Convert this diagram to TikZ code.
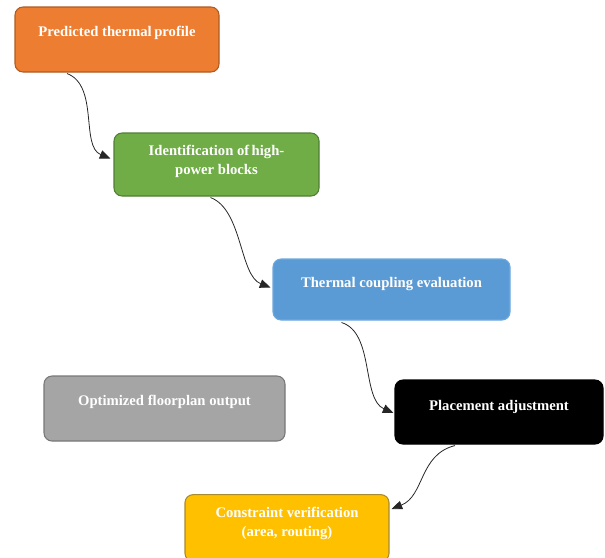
\documentclass[tikz,border=0pt]{standalone}
\usepackage{fontspec}
\setmainfont{Liberation Serif}
\usepackage{xcolor}
\usepackage{tikz}
\usetikzlibrary{arrows.meta,calc}

\definecolor{orangeF}{HTML}{ED7D31}
\definecolor{orangeD}{HTML}{AE5A21}
\definecolor{greenF}{HTML}{70AD47}
\definecolor{greenD}{HTML}{507E32}
\definecolor{blueF}{HTML}{5B9BD5}
\definecolor{blueD}{HTML}{6FA8DC}
\definecolor{grayF}{HTML}{A5A5A5}
\definecolor{grayD}{HTML}{787878}
\definecolor{yellowF}{HTML}{FFC000}
\definecolor{yellowD}{HTML}{A88A30}

\begin{document}
\begin{tikzpicture}[x=0.75pt, y=-0.75pt,
  blk/.style  = {draw, line width=0.8pt, rounded corners=6pt, inner sep=0pt},
  lbl/.style  = {text=white, font=\fontsize{11}{14.25}\selectfont\bfseries,
                 align=center, inner sep=0pt},
  flw/.style  = {-{Triangle[length=8pt,width=6.5pt]}, line width=0.6pt, black!85}
]
\useasboundingbox (0,0) rectangle (605,557);

% --- blocs ---
\node[blk, fill=orangeF, draw=orangeD, minimum width=153pt, minimum height=48.75pt] (prof) at (117,39.5) {};
\node[blk, fill=greenF, draw=greenD, minimum width=153.75pt, minimum height=47.25pt] (ident) at (216.5,164.5) {};
\node[blk, fill=blueF, draw=blueD, minimum width=177.75pt, minimum height=45.75pt] (coupl) at (391.5,289.5) {};
\node[blk, fill=black, draw=black, minimum width=156pt, minimum height=48pt] (place) at (499,412) {};
\node[blk, fill=grayF, draw=grayD, minimum width=180.75pt, minimum height=48.75pt] (optim) at (164.5,408.5) {};
\node[blk, fill=yellowF, draw=yellowD, minimum width=153pt, minimum height=50pt] (verif) at (287,528) {};

% --- textes ---
\node[lbl] (profT)  at (117,33)    {Predicted thermal\,profile};
\node[lbl] (identT) at (216.5,161.5) {Identification of\,high-\\power blocks};
\node[lbl] (couplT) at (391.5,284) {Thermal coupling evaluation};
\node[lbl] (placeT) at (499,407)   {Placement adjustment};
\node[lbl] (optimT) at (164.5,402) {Optimized floorplan output};
\node[lbl] (verifT) at (287,523.5) {Constraint verification\\(area, routing)};

% --- fleches ---
\draw[flw] ($(prof.south)+(-50,1)$) .. controls ($(prof.south)+(-18,13)$)
  and ($(ident.west)+(-33,-18)$) .. ($(ident.west)+(-3,-6)$);
\draw[flw] ($(ident.south)+(-6,1)$) .. controls ($(ident.south)+(26,13)$)
  and ($(coupl.west)+(-33,-14)$) .. ($(coupl.west)+(-2,-2)$);
\draw[flw] ($(coupl.south)+(-50,2)$) .. controls ($(coupl.south)+(-17,12)$)
  and ($(place.west)+(-33,-13)$) .. ($(place.west)+(-1,1)$);
\draw[flw] ($(place.south)+(-44,1)$) .. controls ($(place.south)+(-80,10)$)
  and ($(verif.east)+(35,-32)$) .. ($(verif.east)+(2,-19)$);
\end{tikzpicture}
\end{document}
